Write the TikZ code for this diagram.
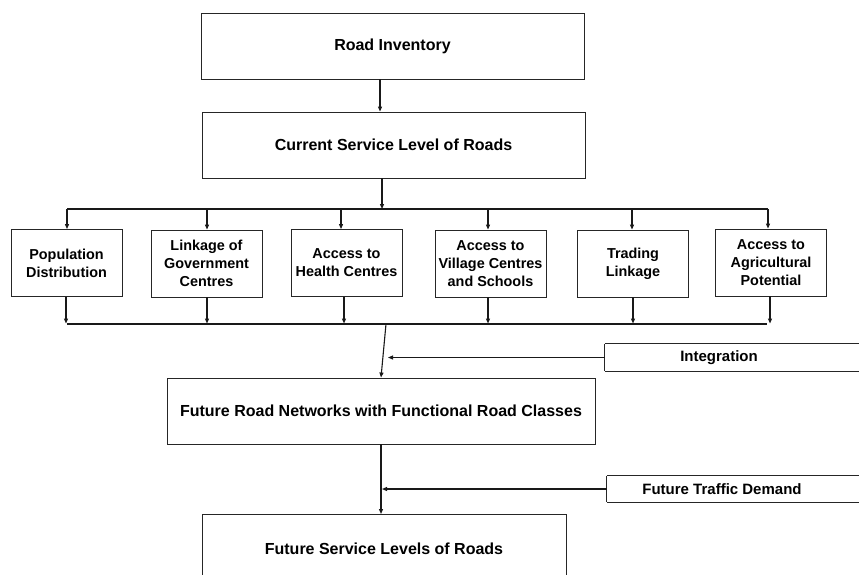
\documentclass[tikz,border=0pt]{standalone}
\usepackage{fontspec}
\setmainfont{Liberation Sans}
\usetikzlibrary{arrows.meta,calc}
\begin{document}
\begin{tikzpicture}[x=1pt,y=-1pt,
  box/.style={draw=black!85,line width=0.9pt,inner sep=0pt,align=center,font=\fontsize{16}{19}\selectfont\bfseries},
  smallbox/.style={box,minimum width=111pt,minimum height=67pt,font=\fontsize{14.4}{18}\selectfont\bfseries},
  sidebox/.style={inner sep=0pt,align=center,minimum height=27pt,font=\fontsize{15}{18}\selectfont\bfseries},
  sideline/.style={line width=0.9pt,draw=black!85},
  line/.style={line width=1.1pt,draw=black!90},
  arr/.style={line,-{Triangle[length=5pt,width=4pt]}}]
\clip (0,0) rectangle (859,574);
\fill[white] (0,0) rectangle (859,574);
% main column
\node[box,minimum width=383pt,minimum height=66pt] (inv) at (392.5,46) {Road Inventory};
\node[box,minimum width=383pt,minimum height=66pt] (cur) at (393.5,145) {Current Service Level of Roads};
% six criteria
\node[smallbox] (b1) at (66.5,263) {Population\\Distribution};
\node[smallbox] (b2) at (206.5,263.5) {Linkage of\\Government\\Centres};
\node[smallbox] (b3) at (346.5,263) {Access to\\Health Centres};
\node[smallbox] (b4) at (490.5,263.5) {Access to\\Village Centres\\and Schools};
\node[smallbox] (b5) at (633,263.5) {Trading\\Linkage};
\node[smallbox] (b6) at (771,262.5) {Access to\\Agricultural\\Potential};
\node[box,minimum width=428pt,minimum height=66pt] (frn) at (381,411) {Future Road Networks with Functional Road Classes};
\node[box,minimum width=364pt,minimum height=70pt,anchor=north west] (fsl) at (202,514) {};
\node[font=\fontsize{16}{19}\selectfont\bfseries] (fsltext) at (384,549) {Future Service Levels of Roads};
% side inputs (boxes run off the right edge)
\node[sidebox,minimum width=228pt] (integ) at (719,357.5) {Integration};
\draw[sideline] (integ.north west) -- ++(300,0) (integ.south west) -- ++(300,0) (integ.north west) -- (integ.south west);
\node[sidebox,minimum width=230pt,minimum height=26pt] (ftd) at (722,489) {Future Traffic Demand};
\draw[sideline] (ftd.north west) -- ++(300,0) (ftd.south west) -- ++(300,0) (ftd.north west) -- (ftd.south west);
% helper coordinates
\coordinate (x1) at (380,0);
\coordinate (x2) at (382,0);
\coordinate (topL) at (67,209);
\coordinate (topR) at (768,209);
\coordinate (botL) at (67,324);
\coordinate (botR) at (767,324);
\coordinate (join) at (386,324);
\coordinate (xf) at (381,0);
% connectors
\draw[arr] (inv.south -| x1) -- (cur.north -| x1);
\draw[arr] (cur.south -| x2) -- (x2 |- topL);
\draw[line] (topL) -- (topR);
\foreach \b/\x in {b1/67,b2/207,b3/341,b4/488,b5/632,b6/768}{
  \draw[arr] (\x,209) -- (\b.north -| {\x,0});
}
\foreach \b/\x in {b1/66,b2/207,b3/344,b4/488,b5/633,b6/770}{
  \draw[arr] (\b.south -| {\x,0}) -- (\x,323.5);
}
\draw[line] (botL) -- (botR);
\draw[arr] (join) -- (frn.north -| xf);
\draw[arr] (integ.west) -- (388,357.5);
\draw[arr] (frn.south -| xf) -- (fsl.north -| xf);
\draw[arr] (ftd.west) -- (382,489);
\end{tikzpicture}
\end{document}
